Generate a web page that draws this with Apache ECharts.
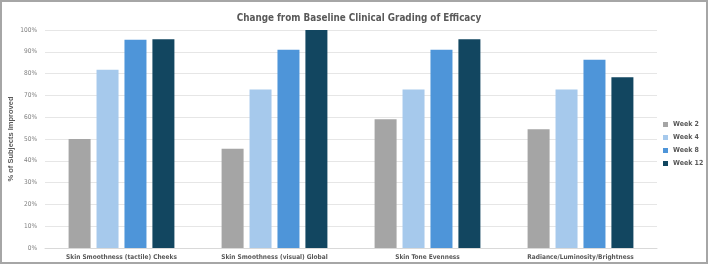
<!DOCTYPE html>
<html>
<head>
<meta charset="utf-8">
<script src="https://cdn.jsdelivr.net/npm/echarts@6/dist/echarts.min.js"></script>
<style>
html,body{margin:0;padding:0;background:#fff;}
#chart{width:709px;height:267px;}
</style>
</head>
<body>
<div id="chart"></div>
<script>
const categories = ['Skin Smoothness (tactile) Cheeks', 'Skin Smoothness (visual) Global', 'Skin Tone Evenness', 'Radiance/Luminosity/Brightness'];
const seriesNames = ['Week 2', 'Week 4', 'Week 8', 'Week 12'];
const week2 = [50.0, 45.5, 59.1, 54.5];
const week4 = [81.8, 72.7, 72.7, 72.7];
const week8 = [95.5, 90.9, 90.9, 86.4];
const week12 = [95.7, 100.0, 95.7, 78.3];
const yTicks = [0, 10, 20, 30, 40, 50, 60, 70, 80, 90, 100];

const colors = ['#a5a5a5', '#a6c9ec', '#4e95d9', '#124660'];
const values = [week2, week4, week8, week12];
const condensed = '"DejaVu Sans Condensed", "Liberation Sans Narrow", "Roboto Condensed", sans-serif';

const chart = echarts.init(document.getElementById('chart'), null, {renderer: 'canvas'});
chart.setOption({
  animation: false,
  backgroundColor: '#ffffff',
  title: {
    text: 'Change from Baseline Clinical Grading of Efficacy',
    left: 354, top: 8, textAlign: 'center',
    textStyle: {fontFamily: condensed, fontWeight: 'bold', fontSize: 9.8, color: '#595959'}
  },
  legend: {
    orient: 'vertical', left: 658, top: 116, itemWidth: 5, itemHeight: 5, itemGap: 6,
    icon: 'rect',
    data: seriesNames,
    textStyle: {fontFamily: condensed, fontWeight: 'bold', fontSize: 7, color: '#595959'}
  },
  grid: {left: 45, right: 52, top: 30, bottom: 19, containLabel: false, outerBoundsMode: 'none'},
  xAxis: {
    type: 'category', data: categories,
    axisTick: {show: false},
    axisLine: {lineStyle: {color: '#d9d9d9', width: 1}},
    axisLabel: {fontFamily: condensed, fontWeight: 'bold', fontSize: 6.5, color: '#595959', margin: 6}
  },
  yAxis: {
    type: 'value', min: yTicks[0], max: yTicks[yTicks.length-1], interval: 10,
    name: '% of Subjects Improved', nameLocation: 'middle', nameGap: 30, nameRotate: 90,
    nameMoveOverlap: false,
    nameTextStyle: {fontFamily: 'Liberation Sans', fontWeight: 'bold', fontSize: 7.5, color: '#595959'},
    axisLabel: {formatter: '{value}%', fontFamily: condensed, fontSize: 6.5, color: '#7f7f7f', margin: 8},
    splitLine: {lineStyle: {color: '#e6e6e6', width: 1}},
    axisLine: {show: false}, axisTick: {show: false}
  },
  series: seriesNames.map((n, i) => ({
    name: n, type: 'bar', data: values[i], barWidth: 22, barGap: '27%',
    itemStyle: {color: colors[i]}
  })),
  graphic: [{
    type: 'rect', shape: {x: 1, y: 1, width: 706, height: 262},
    style: {fill: 'none', stroke: '#a6a6a6', lineWidth: 2}, z: 100
  }]
});
</script>
</body>
</html>
